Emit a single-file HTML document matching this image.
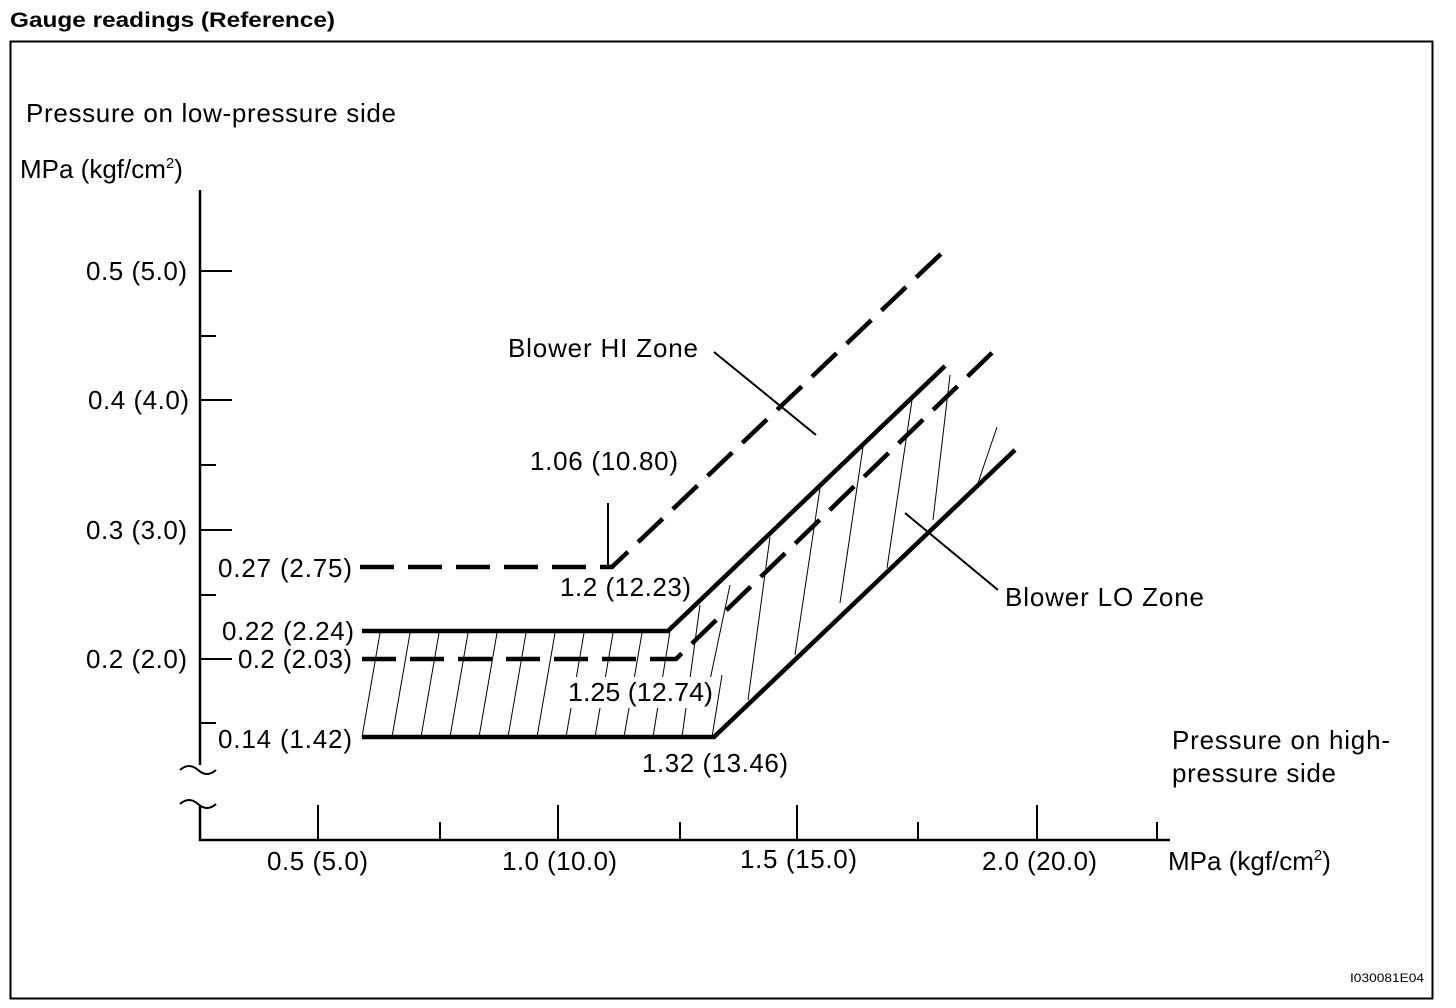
<!DOCTYPE html>
<html><head><meta charset="utf-8"><style>
html,body{margin:0;padding:0;background:#fff;}
svg{display:block;font-family:"Liberation Sans",Arial,sans-serif;}
</style></head><body>
<svg width="1456" height="1008" viewBox="0 0 1456 1008" xmlns="http://www.w3.org/2000/svg">
<text x="10" y="27" font-size="21" font-weight="bold" textLength="325" lengthAdjust="spacingAndGlyphs">Gauge readings (Reference)</text>
<rect x="10.5" y="41.5" width="1422" height="957" fill="none" stroke="#000" stroke-width="2"/>
<g font-size="26" fill="#000" lengthAdjust="spacingAndGlyphs">
<text x="26" y="122" textLength="370">Pressure on low-pressure side</text>
<text x="20" y="178">MPa (kgf/cm<tspan font-size="15" dy="-10">2</tspan><tspan dy="10">)</tspan></text>
<text x="86" y="280" textLength="101">0.5 (5.0)</text>
<text x="88" y="409" textLength="101">0.4 (4.0)</text>
<text x="86" y="539" textLength="101">0.3 (3.0)</text>
<text x="86" y="668" textLength="101">0.2 (2.0)</text>
<text x="218" y="577" textLength="134">0.27 (2.75)</text>
<text x="222" y="640" textLength="132">0.22 (2.24)</text>
<text x="238" y="668" textLength="114">0.2 (2.03)</text>
<text x="218" y="748" textLength="134">0.14 (1.42)</text>
<text x="267" y="870" textLength="101">0.5 (5.0)</text>
<text x="502" y="870" textLength="115">1.0 (10.0)</text>
<text x="740" y="868" textLength="117">1.5 (15.0)</text>
<text x="982" y="870" textLength="115">2.0 (20.0)</text>
<text x="1168" y="870">MPa (kgf/cm<tspan font-size="15" dy="-10">2</tspan><tspan dy="10">)</tspan></text>
<text x="1172" y="749" textLength="218">Pressure on high-</text>
<text x="1172" y="782" textLength="164">pressure side</text>
<text x="508" y="357" textLength="190">Blower HI Zone</text>
<text x="1005" y="606" textLength="199">Blower LO Zone</text>
<text x="530" y="470" textLength="148">1.06 (10.80)</text>
<text x="560" y="596" textLength="131">1.2 (12.23)</text>
<text x="642" y="772" textLength="146">1.32 (13.46)</text>
</g>
<text x="1350" y="982" font-size="12" textLength="74" lengthAdjust="spacingAndGlyphs">I030081E04</text>
<g stroke="#000" fill="none">
<path d="M200 190 V765 M200 805 V840 H1170" stroke-width="2.5"/>
<path d="M180 770 q9 -8 18 0 t18 0 M180 804 q9 -8 18 0 t18 0" stroke-width="2"/>
<path d="M200 271 H232 M200 400 H232 M200 530 H232 M200 659 H232 M200 336 H216 M200 465 H216 M200 595 H216 M200 723 H216" stroke-width="2"/>
<path d="M318 840 V805 M558 840 V805 M797 840 V805 M1037 840 V805 M440 840 V822 M680 840 V822 M918 840 V822 M1157 840 V822" stroke-width="2"/>
<g stroke-width="1">
<path d="M362 737 L380 633 M392 737 L410 633 M421 737 L439 633 M450 737 L468 633 M479 737 L497 633 M508 737 L526 633 M537 737 L555 633 M566 737 L584 633 M595 737 L613 633 M624 737 L642 633 M653 737 L671 625 M682 737 L700 605 M712 737 L722 675 M710 680 L730 585"/>
<path d="M748 700 L770 537 M795 655 L820 488 M840 603 L863 447 M887 568 L912 400 M933 520 L950 375 M978 483 L997 427"/>
</g>
<path d="M714 352 L816 435 M905 513 L998 590" stroke-width="2"/>
<path d="M608 503 V567" stroke-width="2"/>
<path d="M362 631 H668 L945 366" stroke-width="4.5"/>
<path d="M362 737 H714 L1015 450" stroke-width="4.5"/>
<path d="M360 567 H612 L945 250" stroke-width="4.5" stroke-dasharray="34 14"/>
<path d="M362 659 H676 L998 347" stroke-width="4.5" stroke-dasharray="34 14"/>
</g>
<rect x="565" y="677" width="150" height="31" fill="#fff"/>
<text x="568" y="701" font-size="26" textLength="145" lengthAdjust="spacingAndGlyphs">1.25 (12.74)</text>
</svg>
</body></html>
